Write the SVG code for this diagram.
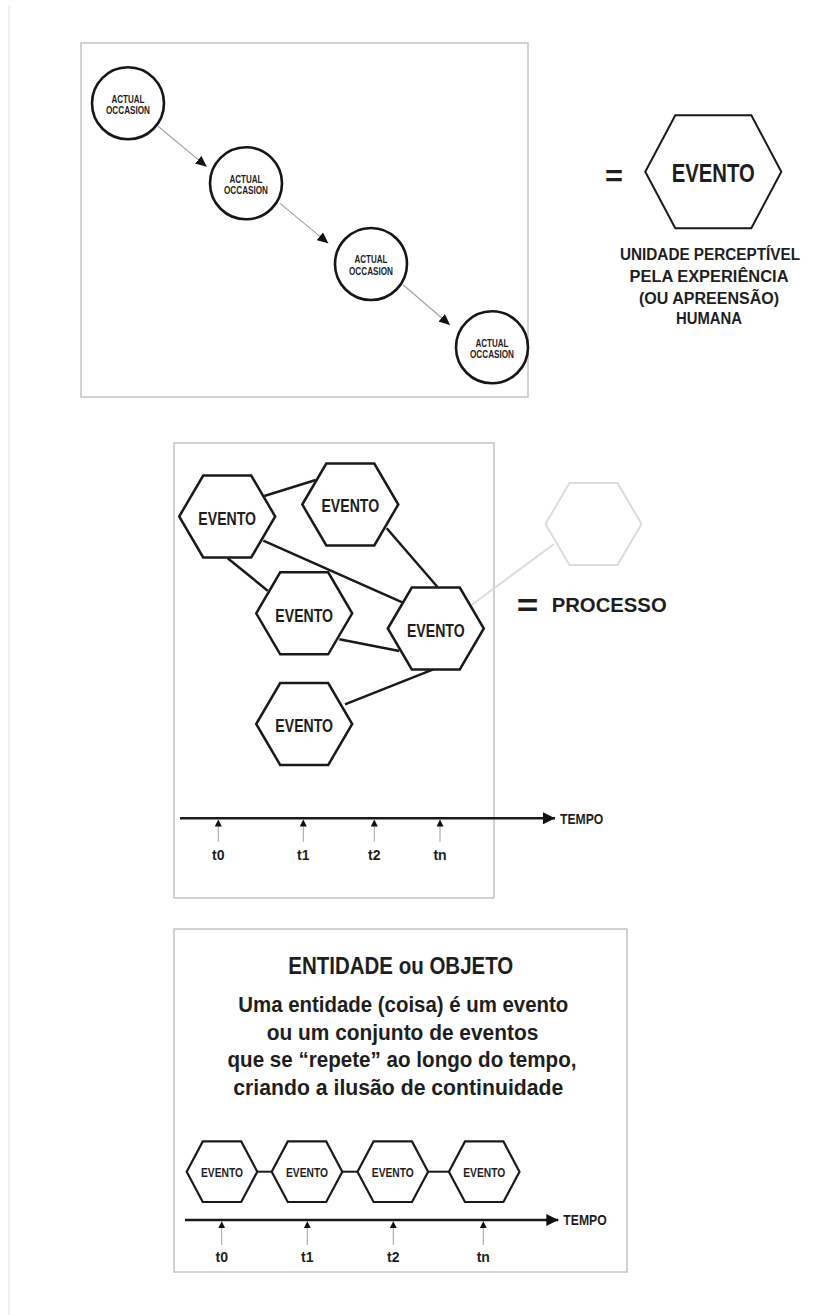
<svg xmlns="http://www.w3.org/2000/svg" width="818" height="1315" viewBox="0 0 818 1315">
  <style>
    .panel { fill: #ffffff; stroke: #c4c4c4; stroke-width: 1.5; }
    .occ { fill: #ffffff; stroke: #161616; stroke-width: 2.6; }
    .hex { fill: #ffffff; stroke: #1a1a1a; stroke-width: 2.5; }
    .hexs { fill: #ffffff; stroke: #1a1a1a; stroke-width: 2.2; }
    .ghost { fill: none; stroke: #dcdcdc; stroke-width: 2; }
    .flow { stroke: #a0a0a0; stroke-width: 1.1; fill: none; }
    .link { stroke: #1a1a1a; stroke-width: 2.5; fill: none; }
    .axis { stroke: #1a1a1a; stroke-width: 2.5; fill: none; }
    .tick { stroke: #a8a8a8; stroke-width: 1.1; fill: none; }
    text { font-family: "Liberation Sans Narrow", "Liberation Sans", Arial, sans-serif; font-weight: bold; fill: #1e1e1e; text-anchor: middle; }
    .occ-t { font-size: 10px; }
    .big { font-size: 25px; }
    .mid { font-size: 18.5px; }
    .sm { font-size: 12.5px; }
    .cap { font-size: 16px; }
    .lab { font-size: 14px; }
    .body { font-size: 22.5px; }
    .title { font-size: 24.5px; }
  </style>
  <defs>
    <marker id="flowHead" markerUnits="userSpaceOnUse" markerWidth="12" markerHeight="10" refX="11" refY="5" orient="auto">
      <path d="M0,0 L11,5 L0,10 Z" fill="#111111"/>
    </marker>
    <marker id="axisHead" markerUnits="userSpaceOnUse" markerWidth="13" markerHeight="12" refX="12" refY="6" orient="auto">
      <path d="M0,0 L12,6 L0,12 Z" fill="#111111"/>
    </marker>
    <marker id="tickHead" markerUnits="userSpaceOnUse" markerWidth="8" markerHeight="8" refX="7" refY="3.5" orient="auto">
      <path d="M0,0 L7,3.5 L0,7 Z" fill="#111111"/>
    </marker>
    <polygon id="hexBig" points="-68,0 -38,-56.5 38,-56.5 68,0 38,56.5 -38,56.5"/>
    <polygon id="hexMid" points="-48,0 -24,-41 24,-41 48,0 24,41 -24,41"/>
    <polygon id="hexSm" points="-35.3,0 -19.2,-30.3 19.2,-30.3 35.3,0 19.2,30.3 -19.2,30.3"/>
  </defs>

  <rect width="818" height="1315" fill="#ffffff"/>
  <!-- page margin rule -->
  <line x1="9" y1="5" x2="9" y2="1315" stroke="#efefef" stroke-width="2"/>

  <!-- ============ panel 1: chain of actual occasions ============ -->
  <rect id="panel-occasions" class="panel" x="81" y="43" width="447" height="354"/>

  <g id="occasion-links">
    <line class="flow" x1="157.7" y1="126" x2="206.7" y2="166.7" marker-end="url(#flowHead)"/>
    <line class="flow" x1="280" y1="203.3" x2="328.3" y2="243.3" marker-end="url(#flowHead)"/>
    <line class="flow" x1="403.3" y1="285" x2="450" y2="325" marker-end="url(#flowHead)"/>
  </g>

  <g id="occasion-1">
    <circle class="occ" cx="128" cy="103.3" r="36"/>
    <text class="occ-t" x="128" y="102.7" textLength="33" lengthAdjust="spacingAndGlyphs">ACTUAL</text>
    <text class="occ-t" x="128" y="114" textLength="44" lengthAdjust="spacingAndGlyphs">OCCASION</text>
  </g>
  <g id="occasion-2">
    <circle class="occ" cx="246" cy="183.3" r="36"/>
    <text class="occ-t" x="246" y="182.7" textLength="33" lengthAdjust="spacingAndGlyphs">ACTUAL</text>
    <text class="occ-t" x="246" y="194" textLength="44" lengthAdjust="spacingAndGlyphs">OCCASION</text>
  </g>
  <g id="occasion-3">
    <circle class="occ" cx="371" cy="264" r="36"/>
    <text class="occ-t" x="371" y="263.4" textLength="33" lengthAdjust="spacingAndGlyphs">ACTUAL</text>
    <text class="occ-t" x="371" y="274.7" textLength="44" lengthAdjust="spacingAndGlyphs">OCCASION</text>
  </g>
  <g id="occasion-4">
    <circle class="occ" cx="492" cy="347.3" r="36"/>
    <text class="occ-t" x="492" y="346.7" textLength="33" lengthAdjust="spacingAndGlyphs">ACTUAL</text>
    <text class="occ-t" x="492" y="358" textLength="44" lengthAdjust="spacingAndGlyphs">OCCASION</text>
  </g>

  <!-- = EVENTO definition -->
  <g id="evento-definition">
    <text x="614" y="186.4" style="font-size:30px" textLength="18" lengthAdjust="spacingAndGlyphs">=</text>
    <use href="#hexBig" x="713.3" y="171.7" class="hex" style="stroke-width:2"/>
    <text class="big" x="713.3" y="181.7" textLength="83" lengthAdjust="spacingAndGlyphs">EVENTO</text>
    <text class="cap" x="710" y="260" textLength="180" lengthAdjust="spacingAndGlyphs">UNIDADE PERCEPTÍVEL</text>
    <text class="cap" x="709" y="281.7" textLength="159" lengthAdjust="spacingAndGlyphs">PELA EXPERIÊNCIA</text>
    <text class="cap" x="709" y="304" textLength="140" lengthAdjust="spacingAndGlyphs">(OU APREENSÃO)</text>
    <text class="cap" x="709" y="324" textLength="66" lengthAdjust="spacingAndGlyphs">HUMANA</text>
  </g>

  <!-- ============ panel 2: process as a network of events ============ -->
  <rect id="panel-process" class="panel" x="174" y="443" width="320" height="455"/>

  <g id="process-links">
    <line class="link" x1="264.3" y1="496" x2="315.7" y2="480"/>
    <line class="link" x1="227.7" y1="558.3" x2="267.7" y2="590.7"/>
    <line class="link" x1="263.3" y1="540.7" x2="402.3" y2="602.3"/>
    <line class="link" x1="386.7" y1="528.3" x2="437.3" y2="586.7"/>
    <line class="link" x1="339.3" y1="639.3" x2="399.3" y2="651"/>
    <line class="link" x1="345" y1="704.3" x2="433.3" y2="669.3"/>
    <line class="ghost" x1="471.7" y1="605" x2="554" y2="544"/>
  </g>

  <g id="process-event-1">
    <use href="#hexMid" x="227.2" y="516.5" class="hex"/>
    <text class="mid" x="227.2" y="524.5" textLength="57.7" lengthAdjust="spacingAndGlyphs">EVENTO</text>
  </g>
  <g id="process-event-2">
    <use href="#hexMid" x="350.3" y="504.5" class="hex"/>
    <text class="mid" x="350.3" y="512" textLength="57.7" lengthAdjust="spacingAndGlyphs">EVENTO</text>
  </g>
  <g id="process-event-3">
    <use href="#hexMid" x="304.2" y="613.3" class="hex"/>
    <text class="mid" x="304.2" y="621.5" textLength="57.7" lengthAdjust="spacingAndGlyphs">EVENTO</text>
  </g>
  <g id="process-event-4">
    <use href="#hexMid" x="435.8" y="628.5" class="hex"/>
    <text class="mid" x="435.8" y="636.5" textLength="57.7" lengthAdjust="spacingAndGlyphs">EVENTO</text>
  </g>
  <g id="process-event-5">
    <use href="#hexMid" x="304.2" y="724" class="hex"/>
    <text class="mid" x="304.2" y="731.7" textLength="57.7" lengthAdjust="spacingAndGlyphs">EVENTO</text>
  </g>

  <g id="processo-definition">
    <use href="#hexMid" x="593.5" y="524" class="ghost"/>
    <text x="527.5" y="616" style="font-size:32px" textLength="21.6" lengthAdjust="spacingAndGlyphs">=</text>
    <text x="609.2" y="611.7" style="font-size:21px" textLength="115" lengthAdjust="spacingAndGlyphs">PROCESSO</text>
  </g>

  <g id="process-timeline">
    <line class="axis" x1="180" y1="818.3" x2="555" y2="818.3" marker-end="url(#axisHead)"/>
    <text class="lab" x="581.7" y="823.5" textLength="43.3" lengthAdjust="spacingAndGlyphs">TEMPO</text>
    <line class="tick" x1="218.3" y1="841.7" x2="218.3" y2="819.5" marker-end="url(#tickHead)"/>
    <line class="tick" x1="303.3" y1="841.7" x2="303.3" y2="819.5" marker-end="url(#tickHead)"/>
    <line class="tick" x1="374.3" y1="841.7" x2="374.3" y2="819.5" marker-end="url(#tickHead)"/>
    <line class="tick" x1="440" y1="841.7" x2="440" y2="819.5" marker-end="url(#tickHead)"/>
    <text class="lab" x="218.3" y="860">t0</text>
    <text class="lab" x="303.3" y="860">t1</text>
    <text class="lab" x="374.3" y="860">t2</text>
    <text class="lab" x="440" y="860">tn</text>
  </g>

  <!-- ============ panel 3: entity as a repeating event ============ -->
  <rect id="panel-entity" class="panel" x="174" y="929" width="453" height="343"/>

  <g id="entity-caption">
    <text class="title" x="400.8" y="974.3" textLength="225" lengthAdjust="spacingAndGlyphs">ENTIDADE ou OBJETO</text>
    <text class="body" x="403.3" y="1012" textLength="330" lengthAdjust="spacingAndGlyphs">Uma entidade (coisa) é um evento</text>
    <text class="body" x="402.5" y="1040" textLength="271.7" lengthAdjust="spacingAndGlyphs">ou um conjunto de eventos</text>
    <text class="body" x="402" y="1066.7" textLength="349" lengthAdjust="spacingAndGlyphs">que se “repete” ao longo do tempo,</text>
    <text class="body" x="398.3" y="1095" textLength="330" lengthAdjust="spacingAndGlyphs">criando a ilusão de continuidade</text>
  </g>

  <g id="entity-links">
    <line class="link" style="stroke-width:2" x1="257.3" y1="1171.7" x2="271.7" y2="1171.7"/>
    <line class="link" style="stroke-width:2" x1="342.3" y1="1171.7" x2="358.3" y2="1171.7"/>
    <line class="link" style="stroke-width:2" x1="427.3" y1="1171.7" x2="449.3" y2="1171.7"/>
  </g>

  <g id="entity-event-1">
    <use href="#hexSm" x="222" y="1171.7" class="hexs"/>
    <text class="sm" x="222" y="1176.7" textLength="42" lengthAdjust="spacingAndGlyphs">EVENTO</text>
  </g>
  <g id="entity-event-2">
    <use href="#hexSm" x="307" y="1171.7" class="hexs"/>
    <text class="sm" x="307" y="1176.7" textLength="42" lengthAdjust="spacingAndGlyphs">EVENTO</text>
  </g>
  <g id="entity-event-3">
    <use href="#hexSm" x="392.8" y="1171.7" class="hexs"/>
    <text class="sm" x="392.8" y="1176.7" textLength="42" lengthAdjust="spacingAndGlyphs">EVENTO</text>
  </g>
  <g id="entity-event-4">
    <use href="#hexSm" x="484.2" y="1171.7" class="hexs"/>
    <text class="sm" x="484.2" y="1176.7" textLength="42" lengthAdjust="spacingAndGlyphs">EVENTO</text>
  </g>

  <g id="entity-timeline">
    <line class="axis" x1="185" y1="1220" x2="558.3" y2="1220" marker-end="url(#axisHead)"/>
    <text class="lab" x="585" y="1225" textLength="43.3" lengthAdjust="spacingAndGlyphs">TEMPO</text>
    <line class="tick" x1="221.7" y1="1245" x2="221.7" y2="1221.2" marker-end="url(#tickHead)"/>
    <line class="tick" x1="307.3" y1="1245" x2="307.3" y2="1221.2" marker-end="url(#tickHead)"/>
    <line class="tick" x1="393.3" y1="1245" x2="393.3" y2="1221.2" marker-end="url(#tickHead)"/>
    <line class="tick" x1="483.3" y1="1245" x2="483.3" y2="1221.2" marker-end="url(#tickHead)"/>
    <text class="lab" x="221.7" y="1261.5">t0</text>
    <text class="lab" x="307.3" y="1261.5">t1</text>
    <text class="lab" x="393.3" y="1261.5">t2</text>
    <text class="lab" x="483.3" y="1261.5">tn</text>
  </g>
</svg>
